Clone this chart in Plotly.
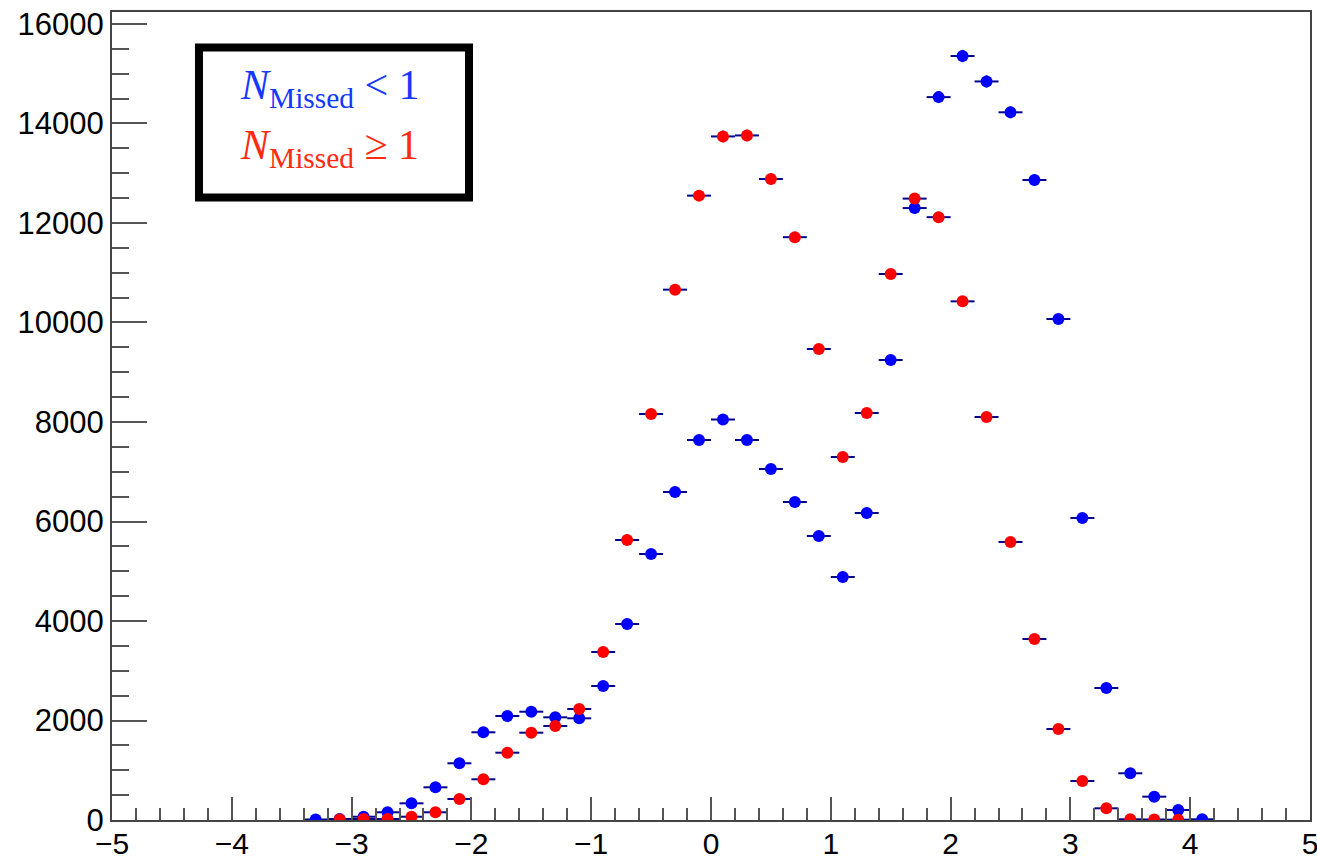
import math
import plotly.graph_objects as go

# ---- data ----
blue_x = [-3.3, -3.1, -2.9, -2.7, -2.5, -2.3, -2.1, -1.9, -1.7, -1.5, -1.3, -1.1,
          -0.9, -0.7, -0.5, -0.3, -0.1, 0.1, 0.3, 0.5, 0.7, 0.9, 1.1, 1.3, 1.5,
          1.7, 1.9, 2.1, 2.3, 2.5, 2.7, 2.9, 3.1, 3.3, 3.5, 3.7, 3.9, 4.1]
blue_y = [10, 20, 66, 155, 335, 657, 1140, 1763, 2090, 2177, 2064, 2044,
          2693, 3940, 5347, 6593, 7638, 8050, 7638, 7055, 6392, 5708, 4884, 6171, 9246,
          12300, 14530, 15356, 14845, 14225, 12864, 10070, 6070, 2653, 939, 469, 201, 14]

red_x = [-3.1, -2.9, -2.7, -2.5, -2.3, -2.1, -1.9, -1.7, -1.5, -1.3, -1.1,
         -0.9, -0.7, -0.5, -0.3, -0.1, 0.1, 0.3, 0.5, 0.7, 0.9, 1.1, 1.3, 1.5,
         1.7, 1.9, 2.1, 2.3, 2.5, 2.7, 2.9, 3.1, 3.3, 3.5, 3.7, 3.9]
red_y = [10, 20, 20, 66, 155, 422, 818, 1353, 1755, 1889, 2231,
         3377, 5628, 8161, 10660, 12550, 13740, 13760, 12884, 11715, 9467, 7296, 8181, 10975,
         12490, 12117, 10425, 8100, 5588, 3638, 1829, 784, 235, 14, 10, 6]

bin_half_width = 0.1
x_ticks = [-5, -4, -3, -2, -1, 0, 1, 2, 3, 4, 5]
y_ticks = [0, 2000, 4000, 6000, 8000, 10000, 12000, 14000, 16000]

ERR_COLOR = "#00008b"


def series(x, y, color):
    return go.Scatter(
        x=x, y=y, mode="markers",
        marker=dict(color=color, size=12, line=dict(width=0)),
        error_x=dict(type="constant", value=bin_half_width, color=ERR_COLOR,
                     thickness=2, width=0),
        error_y=dict(type="data", array=[math.sqrt(v) for v in y], color=ERR_COLOR,
                     thickness=2, width=0),
        showlegend=False, hoverinfo="x+y",
    )


fig = go.Figure()
fig.add_trace(series(blue_x, blue_y, "#0000ff"))
fig.add_trace(series(red_x, red_y, "#ff0000"))

axis_font = dict(family="Liberation Sans, Arial, sans-serif", size=31, color="black")

fig.update_layout(
    width=1317, height=856,
    margin=dict(l=112, r=7, t=12, b=36),
    paper_bgcolor="white", plot_bgcolor="white",
    xaxis=dict(
        range=[-5, 5], tickvals=x_ticks, ticks="inside", ticklen=23, tickwidth=1.5,
        tickcolor="#555555", showline=True, linecolor="#444444", linewidth=2,
        mirror=True, showgrid=False, zeroline=False,
        tickfont=dict(family="Liberation Sans, Arial, sans-serif", size=30, color="black"),
        ticklabeloverflow="allow", automargin=False, ticklabelstandoff=-4,
        minor=dict(ticks="inside", ticklen=12, dtick=0.2, tick0=0,
                   tickcolor="#555555", tickwidth=1.5, showgrid=False),
    ),
    yaxis=dict(
        range=[0, 16241], tickvals=y_ticks, tickformat="d", ticks="inside",
        ticklen=35, tickwidth=1.5, tickcolor="#555555", showline=True,
        linecolor="#444444", linewidth=2, mirror=True, showgrid=False,
        zeroline=False, tickfont=axis_font, automargin=False,
        minor=dict(ticks="inside", ticklen=17, dtick=500, tick0=0,
                   tickcolor="#555555", tickwidth=1.5, showgrid=False),
    ),
)

# legend box (ROOT TPaveText style)
fig.add_shape(type="rect", xref="paper", yref="paper",
              x0=0.0726, x1=0.298, y0=0.7704, y1=0.956,
              line=dict(color="black", width=8), fillcolor="white", layer="above")

legend_font = "Liberation Serif, Times New Roman, serif"
fig.add_annotation(xref="paper", yref="paper", x=0.105, y=0.906,
                   xanchor="left", yanchor="middle", showarrow=False,
                   text="<i>N</i><sub>Missed</sub> &lt; 1",
                   font=dict(family=legend_font, size=42, color="#1438ff"))
fig.add_annotation(xref="paper", yref="paper", x=0.105, y=0.832,
                   xanchor="left", yanchor="middle", showarrow=False,
                   text="<i>N</i><sub>Missed</sub> ≥ 1",
                   font=dict(family=legend_font, size=42, color="#ff2a10"))

fig.write_html("out.html")
